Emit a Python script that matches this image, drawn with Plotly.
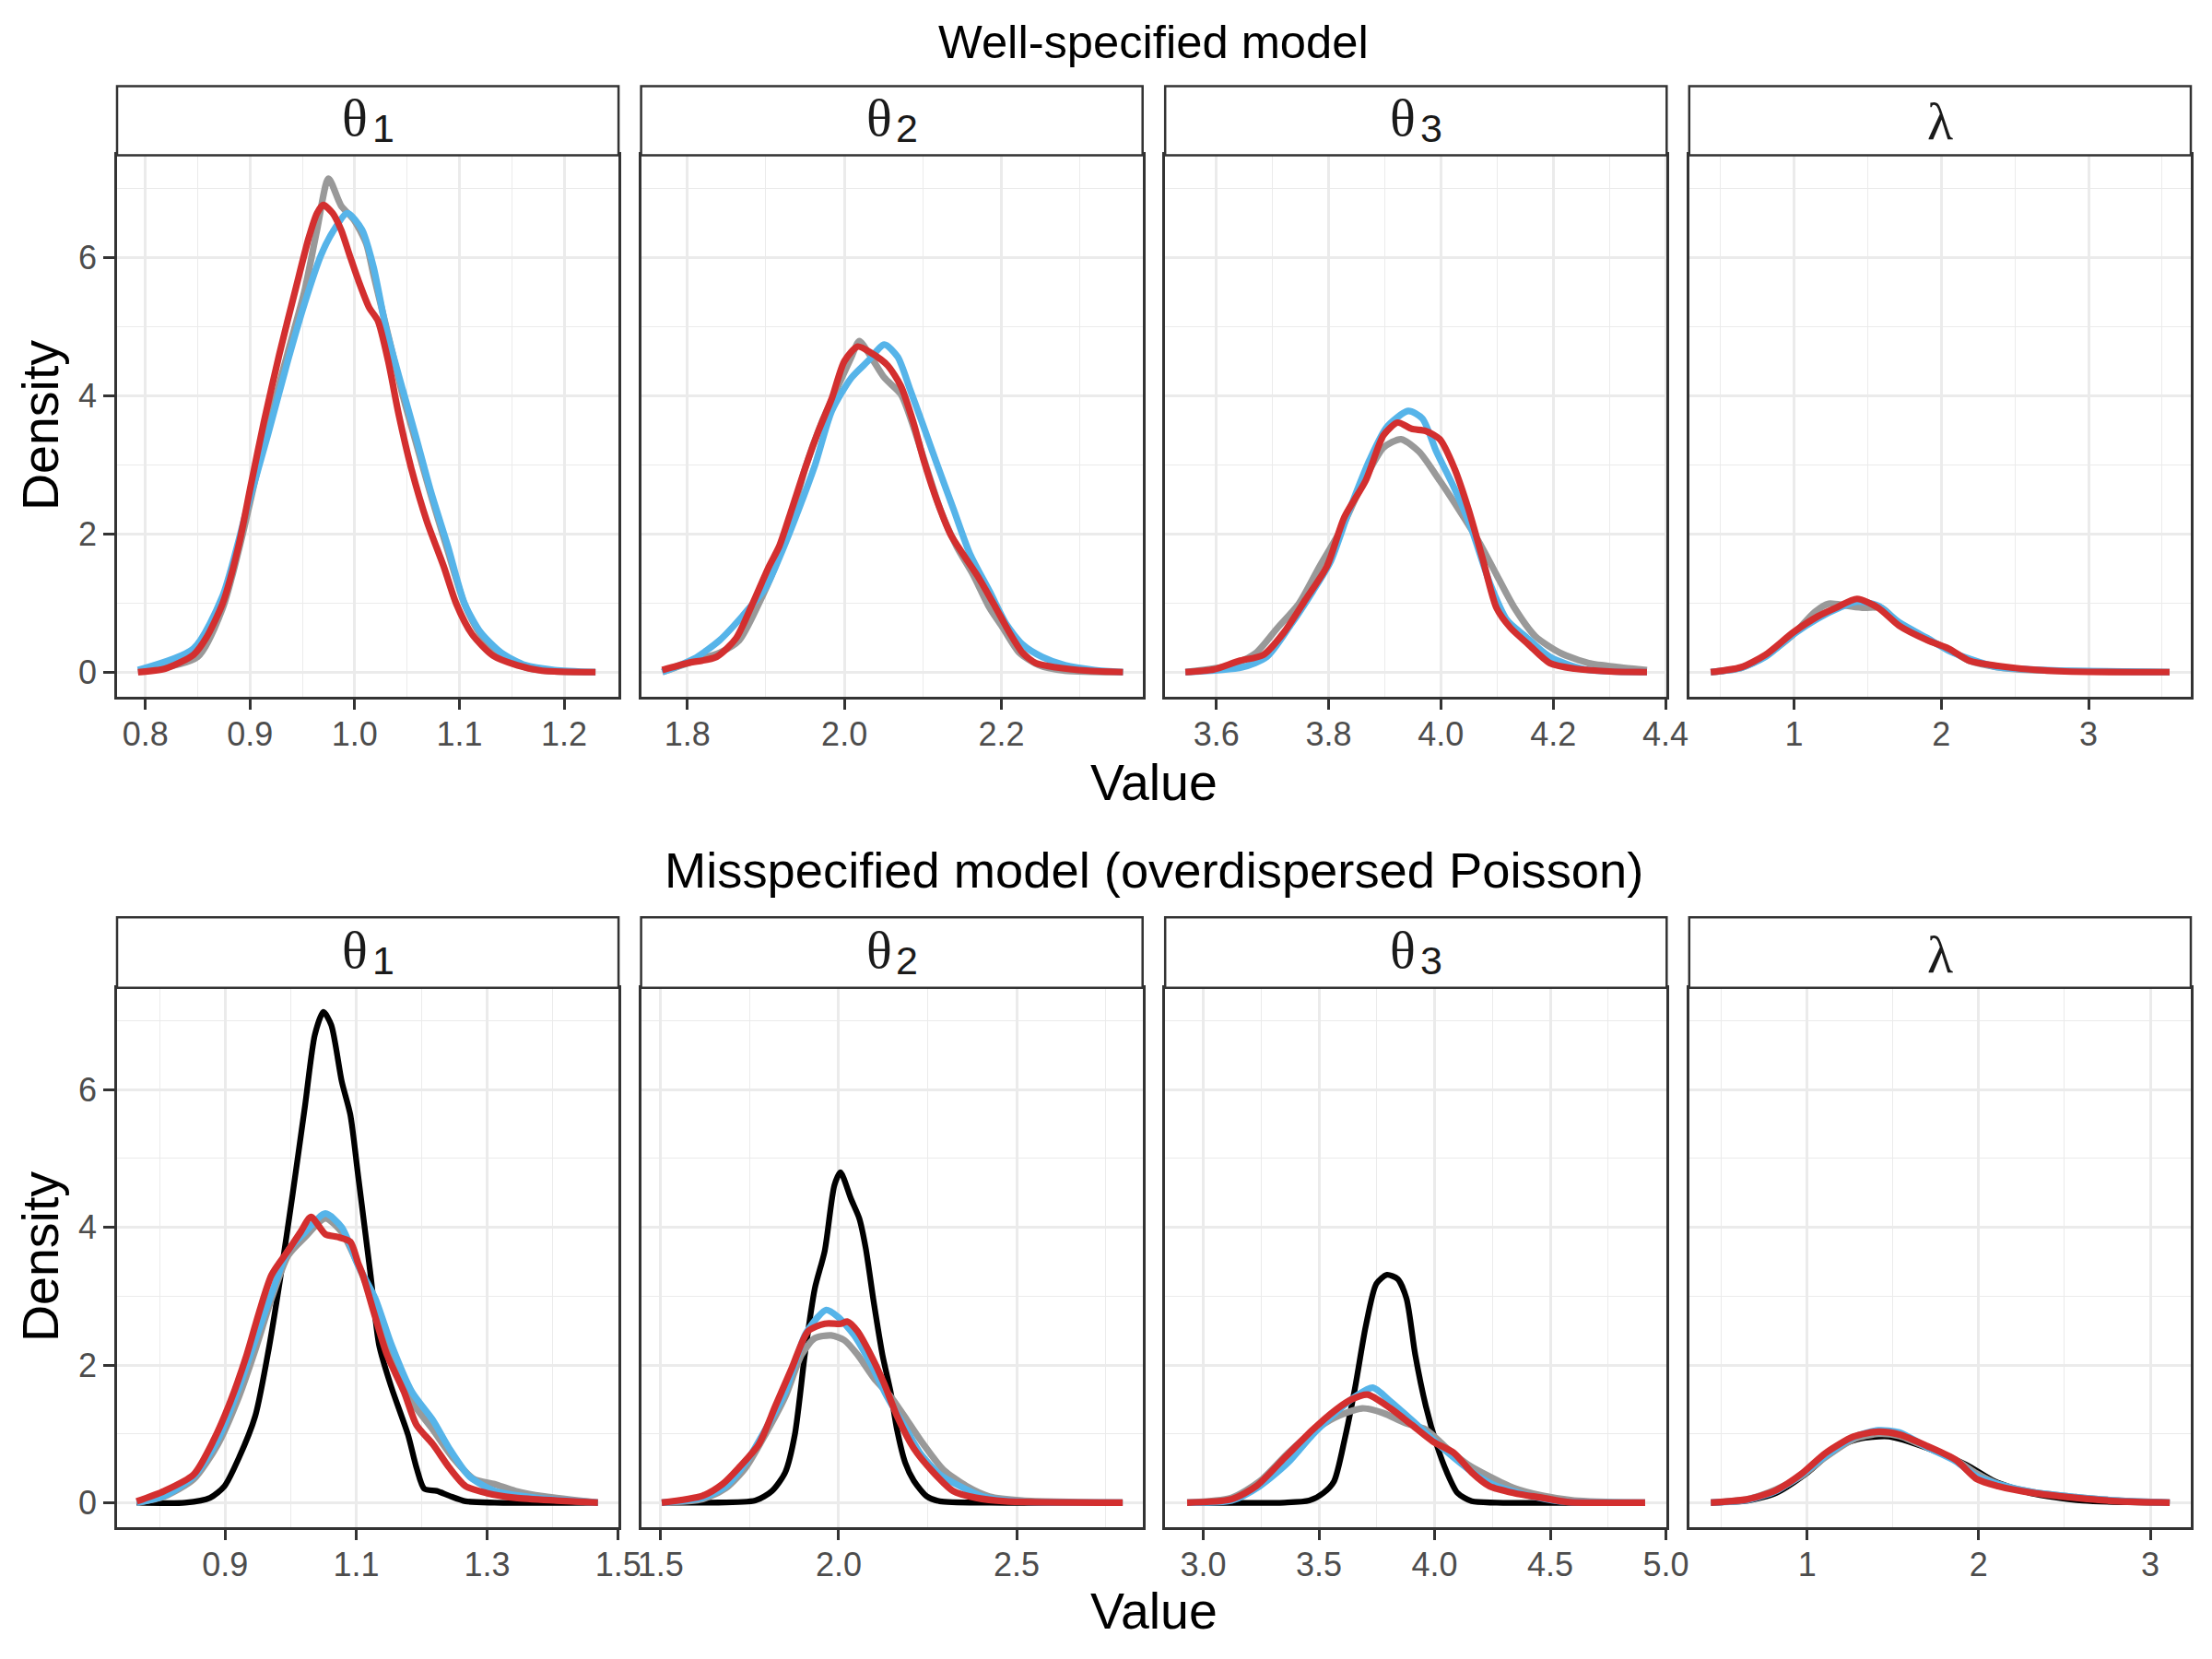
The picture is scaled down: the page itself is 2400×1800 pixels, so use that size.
import plotly.graph_objects as go

W, H = 2400, 1800
C_GRAY, C_BLUE, C_BLACK, C_RED = "#999999", "#56B4E9", "#000000", "#D32F2F"

# ---------------- Well-specified model ----------------
# theta1
W1_GRAY_X = [0.793, 0.850, 0.874, 0.893, 0.913, 0.936, 0.952, 0.964, 0.975, 0.987, 0.999, 1.011, 1.018, 1.030, 1.046, 1.058, 1.073, 1.089, 1.105, 1.120, 1.140, 1.163, 1.191, 1.230]
W1_GRAY_Y = [0.0, 0.22, 0.93, 2.0, 3.31, 4.62, 5.51, 6.4, 7.14, 6.75, 6.55, 6.2, 5.75, 5.0, 4.0, 3.35, 2.55, 1.75, 0.98, 0.55, 0.25, 0.07, 0.01, 0.0]
W1_BLUE_X = [0.793, 0.846, 0.874, 0.897, 0.917, 0.936, 0.952, 0.968, 0.979, 0.993, 1.007, 1.018, 1.030, 1.046, 1.058, 1.073, 1.089, 1.105, 1.120, 1.140, 1.163, 1.191, 1.230]
W1_BLUE_Y = [0.03, 0.34, 1.11, 2.36, 3.43, 4.5, 5.33, 6.04, 6.37, 6.64, 6.4, 5.86, 4.97, 4.08, 3.43, 2.6, 1.82, 0.99, 0.58, 0.28, 0.1, 0.03, 0.0]
W1_RED_X = [0.793, 0.819, 0.846, 0.858, 0.874, 0.889, 0.901, 0.913, 0.928, 0.944, 0.956, 0.964, 0.970, 0.979, 0.987, 0.995, 1.003, 1.014, 1.022, 1.032, 1.042, 1.054, 1.069, 1.085, 1.097, 1.112, 1.132, 1.155, 1.179, 1.230]
W1_RED_Y = [0.0, 0.05, 0.25, 0.49, 1.0, 1.82, 2.72, 3.6, 4.6, 5.57, 6.28, 6.64, 6.76, 6.64, 6.4, 6.04, 5.69, 5.27, 5.09, 4.5, 3.73, 2.95, 2.18, 1.53, 0.99, 0.55, 0.24, 0.10, 0.02, 0.0]
# theta2
W2_GRAY_X = [1.768, 1.808, 1.841, 1.866, 1.891, 1.912, 1.933, 1.950, 1.971, 1.992, 2.009, 2.019, 2.034, 2.051, 2.072, 2.088, 2.105, 2.122, 2.143, 2.164, 2.185, 2.202, 2.223, 2.248, 2.281, 2.355]
W2_GRAY_Y = [0.0, 0.16, 0.28, 0.46, 0.99, 1.53, 2.24, 2.95, 3.61, 4.14, 4.56, 4.79, 4.56, 4.26, 4.02, 3.55, 2.95, 2.36, 1.82, 1.41, 0.93, 0.64, 0.28, 0.1, 0.02, 0.0]
W2_BLUE_X = [1.768, 1.808, 1.841, 1.870, 1.900, 1.921, 1.942, 1.963, 1.984, 2.009, 2.030, 2.051, 2.068, 2.084, 2.101, 2.118, 2.139, 2.160, 2.185, 2.206, 2.227, 2.252, 2.281, 2.319, 2.355]
W2_BLUE_Y = [0.0, 0.19, 0.46, 0.81, 1.23, 1.76, 2.36, 3.01, 3.78, 4.26, 4.5, 4.74, 4.56, 4.08, 3.55, 3.01, 2.36, 1.71, 1.17, 0.7, 0.4, 0.22, 0.1, 0.03, 0.0]
W2_RED_X = [1.768, 1.800, 1.837, 1.862, 1.883, 1.904, 1.917, 1.933, 1.950, 1.967, 1.984, 2.000, 2.017, 2.034, 2.055, 2.072, 2.088, 2.101, 2.118, 2.135, 2.151, 2.172, 2.193, 2.210, 2.227, 2.244, 2.269, 2.311, 2.355]
W2_RED_Y = [0.03, 0.13, 0.22, 0.49, 0.99, 1.53, 1.82, 2.36, 2.95, 3.49, 3.96, 4.5, 4.71, 4.62, 4.44, 4.14, 3.61, 3.07, 2.48, 2.0, 1.71, 1.35, 0.93, 0.58, 0.28, 0.13, 0.07, 0.02, 0.0]
# theta3
W3_GRAY_X = [3.545, 3.627, 3.671, 3.709, 3.747, 3.784, 3.822, 3.860, 3.898, 3.929, 3.961, 3.998, 4.036, 4.068, 4.099, 4.131, 4.168, 4.212, 4.263, 4.319, 4.367]
W3_GRAY_Y = [0.0, 0.1, 0.28, 0.64, 0.99, 1.53, 2.06, 2.72, 3.25, 3.37, 3.19, 2.77, 2.3, 1.88, 1.41, 0.93, 0.52, 0.28, 0.13, 0.07, 0.03]
W3_BLUE_X = [3.545, 3.646, 3.690, 3.734, 3.772, 3.803, 3.835, 3.873, 3.904, 3.942, 3.967, 3.992, 4.024, 4.055, 4.087, 4.118, 4.150, 4.194, 4.256, 4.367]
W3_BLUE_Y = [0.0, 0.07, 0.22, 0.7, 1.17, 1.59, 2.3, 3.07, 3.55, 3.78, 3.67, 3.19, 2.66, 2.06, 1.29, 0.75, 0.52, 0.22, 0.04, 0.0]
W3_RED_X = [3.545, 3.596, 3.640, 3.684, 3.721, 3.759, 3.797, 3.828, 3.866, 3.898, 3.923, 3.948, 3.973, 3.998, 4.024, 4.049, 4.074, 4.099, 4.124, 4.156, 4.194, 4.238, 4.300, 4.367]
W3_RED_Y = [0.0, 0.04, 0.16, 0.25, 0.58, 1.05, 1.53, 2.24, 2.77, 3.43, 3.61, 3.52, 3.49, 3.37, 2.95, 2.36, 1.65, 0.93, 0.64, 0.4, 0.13, 0.05, 0.01, 0.0]
# lambda
W4_GRAY_X = [0.435, 0.639, 0.806, 0.998, 1.141, 1.237, 1.356, 1.476, 1.596, 1.715, 1.907, 2.050, 2.194, 2.385, 2.600, 3.550]
W4_GRAY_Y = [0.0, 0.06, 0.23, 0.55, 0.87, 0.99, 0.96, 0.93, 0.93, 0.7, 0.47, 0.33, 0.16, 0.07, 0.03, 0.0]
W4_BLUE_X = [0.435, 0.639, 0.806, 0.998, 1.165, 1.309, 1.428, 1.572, 1.715, 1.907, 2.050, 2.194, 2.385, 2.600, 2.840, 3.550]
W4_BLUE_Y = [0.0, 0.06, 0.22, 0.55, 0.78, 0.93, 1.02, 0.96, 0.72, 0.49, 0.31, 0.19, 0.07, 0.04, 0.02, 0.0]
W4_RED_X = [0.435, 0.639, 0.806, 0.998, 1.165, 1.285, 1.428, 1.572, 1.715, 1.907, 2.050, 2.194, 2.385, 2.600, 2.840, 3.550]
W4_RED_Y = [0.0, 0.07, 0.25, 0.58, 0.81, 0.93, 1.06, 0.93, 0.67, 0.46, 0.34, 0.16, 0.09, 0.04, 0.01, 0.0]

# ---------------- Misspecified model ----------------
# theta1
M1_BLACK_X = [0.765, 0.839, 0.877, 0.899, 0.921, 0.946, 0.965, 0.984, 1.003, 1.022, 1.037, 1.050, 1.062, 1.078, 1.091, 1.103, 1.122, 1.135, 1.154, 1.179, 1.192, 1.204, 1.223, 1.242, 1.267, 1.311, 1.469]
M1_BLACK_Y = [0.0, 0.0, 0.07, 0.24, 0.65, 1.26, 2.15, 3.25, 4.48, 5.77, 6.8, 7.13, 6.94, 6.12, 5.64, 4.75, 3.31, 2.29, 1.67, 0.99, 0.51, 0.2, 0.17, 0.1, 0.02, 0.0, 0.0]
M1_GRAY_X = [0.765, 0.807, 0.852, 0.889, 0.921, 0.946, 0.971, 0.996, 1.022, 1.053, 1.078, 1.103, 1.129, 1.154, 1.185, 1.217, 1.248, 1.280, 1.311, 1.343, 1.387, 1.469]
M1_GRAY_Y = [0.0, 0.09, 0.34, 0.85, 1.54, 2.22, 2.97, 3.59, 3.86, 4.13, 3.93, 3.45, 2.84, 2.15, 1.47, 1.06, 0.65, 0.34, 0.27, 0.17, 0.09, 0.0]
M1_BLUE_X = [0.765, 0.807, 0.852, 0.889, 0.921, 0.946, 0.971, 0.996, 1.022, 1.053, 1.078, 1.103, 1.129, 1.154, 1.185, 1.217, 1.242, 1.273, 1.311, 1.374, 1.469]
M1_BLUE_Y = [0.0, 0.1, 0.38, 0.92, 1.67, 2.36, 3.04, 3.66, 3.93, 4.2, 4.0, 3.45, 2.97, 2.29, 1.61, 1.2, 0.79, 0.38, 0.17, 0.07, 0.0]
M1_RED_X = [0.765, 0.807, 0.852, 0.883, 0.908, 0.933, 0.952, 0.971, 0.996, 1.015, 1.031, 1.053, 1.072, 1.091, 1.103, 1.110, 1.129, 1.147, 1.173, 1.192, 1.217, 1.242, 1.267, 1.299, 1.343, 1.406, 1.469]
M1_RED_Y = [0.02, 0.17, 0.41, 0.92, 1.47, 2.15, 2.77, 3.31, 3.66, 3.93, 4.15, 3.9, 3.86, 3.79, 3.48, 3.31, 2.7, 2.15, 1.61, 1.13, 0.85, 0.51, 0.24, 0.14, 0.07, 0.03, 0.0]
# theta2
M2_BLACK_X = [1.503, 1.637, 1.766, 1.813, 1.850, 1.877, 1.905, 1.933, 1.961, 1.988, 2.005, 2.035, 2.058, 2.076, 2.099, 2.123, 2.146, 2.164, 2.187, 2.211, 2.248, 2.284, 2.423, 2.798]
M2_BLACK_Y = [0.0, 0.0, 0.03, 0.17, 0.44, 0.99, 2.15, 3.11, 3.66, 4.61, 4.8, 4.41, 4.13, 3.7, 2.9, 2.15, 1.61, 1.06, 0.58, 0.32, 0.09, 0.02, 0.0, 0.0]
M2_GRAY_X = [1.503, 1.618, 1.683, 1.739, 1.794, 1.850, 1.896, 1.933, 1.979, 2.016, 2.053, 2.099, 2.146, 2.192, 2.238, 2.294, 2.359, 2.423, 2.516, 2.798]
M2_GRAY_Y = [0.0, 0.05, 0.21, 0.51, 0.99, 1.54, 2.15, 2.39, 2.43, 2.36, 2.15, 1.81, 1.54, 1.2, 0.85, 0.48, 0.24, 0.09, 0.03, 0.0]
M2_BLUE_X = [1.503, 1.618, 1.683, 1.739, 1.794, 1.850, 1.905, 1.942, 1.965, 1.998, 2.044, 2.090, 2.136, 2.183, 2.229, 2.284, 2.340, 2.405, 2.497, 2.798]
M2_BLUE_Y = [0.0, 0.07, 0.24, 0.58, 1.06, 1.61, 2.43, 2.7, 2.8, 2.7, 2.43, 2.02, 1.54, 1.13, 0.72, 0.41, 0.24, 0.09, 0.02, 0.0]
M2_RED_X = [1.503, 1.618, 1.674, 1.720, 1.776, 1.822, 1.868, 1.914, 1.961, 2.007, 2.025, 2.053, 2.090, 2.127, 2.164, 2.211, 2.266, 2.321, 2.386, 2.469, 2.798]
M2_RED_Y = [0.0, 0.1, 0.27, 0.51, 0.85, 1.4, 1.95, 2.49, 2.6, 2.6, 2.63, 2.49, 2.15, 1.74, 1.26, 0.79, 0.44, 0.17, 0.07, 0.02, 0.0]
# theta3
M3_BLACK_X = [2.930, 3.351, 3.458, 3.519, 3.565, 3.611, 3.656, 3.702, 3.748, 3.794, 3.840, 3.878, 3.916, 3.962, 4.008, 4.053, 4.099, 4.160, 4.267, 4.910]
M3_BLACK_Y = [0.0, 0.0, 0.03, 0.14, 0.31, 0.92, 1.67, 2.56, 3.18, 3.31, 3.25, 2.97, 2.15, 1.4, 0.85, 0.44, 0.14, 0.02, 0.0, 0.0]
M3_GRAY_X = [2.930, 3.122, 3.244, 3.366, 3.473, 3.565, 3.687, 3.779, 3.870, 3.962, 4.053, 4.145, 4.237, 4.344, 4.466, 4.603, 4.910]
M3_GRAY_Y = [0.0, 0.07, 0.31, 0.72, 1.03, 1.23, 1.37, 1.3, 1.16, 1.06, 0.79, 0.55, 0.38, 0.21, 0.1, 0.03, 0.0]
M3_BLUE_X = [2.930, 3.122, 3.244, 3.366, 3.473, 3.580, 3.656, 3.733, 3.809, 3.901, 3.992, 4.084, 4.176, 4.267, 4.389, 4.542, 4.910]
M3_BLUE_Y = [0.0, 0.03, 0.24, 0.58, 0.99, 1.33, 1.54, 1.67, 1.47, 1.2, 0.92, 0.65, 0.41, 0.24, 0.12, 0.02, 0.0]
M3_RED_X = [2.930, 3.122, 3.229, 3.351, 3.473, 3.565, 3.641, 3.710, 3.809, 3.901, 3.992, 4.084, 4.160, 4.237, 4.344, 4.466, 4.573, 4.910]
M3_RED_Y = [0.0, 0.05, 0.24, 0.65, 1.06, 1.33, 1.5, 1.57, 1.37, 1.13, 0.89, 0.72, 0.44, 0.24, 0.14, 0.07, 0.01, 0.0]
# lambda
M4_BLACK_X = [0.439, 0.655, 0.819, 1.004, 1.168, 1.292, 1.476, 1.702, 1.928, 2.092, 2.298, 2.606, 3.113]
M4_BLACK_Y = [0.0, 0.03, 0.14, 0.44, 0.79, 0.92, 0.96, 0.79, 0.55, 0.31, 0.14, 0.03, 0.0]
M4_GRAY_X = [0.439, 0.655, 0.819, 0.963, 1.107, 1.271, 1.415, 1.538, 1.702, 1.867, 1.990, 2.113, 2.318, 2.565, 2.811, 3.113]
M4_GRAY_Y = [0.0, 0.05, 0.19, 0.38, 0.66, 0.92, 1.0, 0.97, 0.8, 0.62, 0.42, 0.27, 0.15, 0.08, 0.03, 0.0]
M4_BLUE_X = [0.439, 0.655, 0.819, 0.963, 1.107, 1.271, 1.415, 1.538, 1.702, 1.867, 1.990, 2.113, 2.318, 2.565, 2.811, 3.113]
M4_BLUE_Y = [0.0, 0.04, 0.17, 0.4, 0.68, 0.95, 1.05, 1.02, 0.8, 0.6, 0.38, 0.27, 0.15, 0.08, 0.03, 0.0]
M4_RED_X = [0.439, 0.655, 0.819, 0.963, 1.107, 1.271, 1.415, 1.538, 1.702, 1.867, 1.990, 2.113, 2.318, 2.565, 2.811, 3.113]
M4_RED_Y = [0.0, 0.05, 0.18, 0.41, 0.72, 0.96, 1.03, 0.99, 0.82, 0.62, 0.34, 0.24, 0.14, 0.07, 0.02, 0.0]

# ---------------- axes ----------------
ROW_TITLES = ["Well-specified model", "Misspecified model (overdispersed Poisson)"]
ROW_TITLE_SIZES = [50.7, 54.3]
PANEL_LABELS = [("θ", "1"), ("θ", "2"), ("θ", "3"), ("λ", "")]
X_RANGES = [[0.773, 1.252], [1.741, 2.380], [3.509, 4.402], [0.289, 3.694],
            [0.735, 1.5005], [1.445, 2.854], [2.835, 5.003], [0.313, 3.236]]
X_TICKS = [[0.8, 0.9, 1.0, 1.1, 1.2], [1.8, 2.0, 2.2], [3.6, 3.8, 4.0, 4.2, 4.4], [1, 2, 3],
           [0.9, 1.1, 1.3, 1.5], [1.5, 2.0, 2.5], [3.0, 3.5, 4.0, 4.5, 5.0], [1, 2, 3]]
X_TICKTEXT = [["0.8", "0.9", "1.0", "1.1", "1.2"], ["1.8", "2.0", "2.2"], ["3.6", "3.8", "4.0", "4.2", "4.4"], ["1", "2", "3"],
              ["0.9", "1.1", "1.3", "1.5"], ["1.5", "2.0", "2.5"], ["3.0", "3.5", "4.0", "4.5", "5.0"], ["1", "2", "3"]]
X_MINOR = [[0.85, 0.95, 1.05, 1.15], [1.9, 2.1, 2.3], [3.7, 3.9, 4.1, 4.3], [0.5, 1.5, 2.5, 3.5],
           [0.8, 1.0, 1.2, 1.4], [1.75, 2.25, 2.75], [3.25, 3.75, 4.25, 4.75], [0.5, 1.5, 2.5]]
Y_RANGE = [-0.357, 7.48]
Y_TICKS = [0, 2, 4, 6]
Y_MINOR = [1, 3, 5, 7]

SERIES = [
    [(W1_GRAY_X, W1_GRAY_Y, C_GRAY), (W1_BLUE_X, W1_BLUE_Y, C_BLUE), (W1_RED_X, W1_RED_Y, C_RED)],
    [(W2_GRAY_X, W2_GRAY_Y, C_GRAY), (W2_BLUE_X, W2_BLUE_Y, C_BLUE), (W2_RED_X, W2_RED_Y, C_RED)],
    [(W3_GRAY_X, W3_GRAY_Y, C_GRAY), (W3_BLUE_X, W3_BLUE_Y, C_BLUE), (W3_RED_X, W3_RED_Y, C_RED)],
    [(W4_GRAY_X, W4_GRAY_Y, C_GRAY), (W4_BLUE_X, W4_BLUE_Y, C_BLUE), (W4_RED_X, W4_RED_Y, C_RED)],
    [(M1_BLACK_X, M1_BLACK_Y, C_BLACK), (M1_GRAY_X, M1_GRAY_Y, C_GRAY), (M1_BLUE_X, M1_BLUE_Y, C_BLUE), (M1_RED_X, M1_RED_Y, C_RED)],
    [(M2_BLACK_X, M2_BLACK_Y, C_BLACK), (M2_GRAY_X, M2_GRAY_Y, C_GRAY), (M2_BLUE_X, M2_BLUE_Y, C_BLUE), (M2_RED_X, M2_RED_Y, C_RED)],
    [(M3_BLACK_X, M3_BLACK_Y, C_BLACK), (M3_GRAY_X, M3_GRAY_Y, C_GRAY), (M3_BLUE_X, M3_BLUE_Y, C_BLUE), (M3_RED_X, M3_RED_Y, C_RED)],
    [(M4_BLACK_X, M4_BLACK_Y, C_BLACK), (M4_GRAY_X, M4_GRAY_Y, C_GRAY), (M4_BLUE_X, M4_BLUE_Y, C_BLUE), (M4_RED_X, M4_RED_Y, C_RED)],
]

# layout geometry in page pixels
COLS_PX = [(127.0, 671.1), (695.6, 1239.7), (1264.2, 1808.3), (1832.8, 2377.0)]
ROWS_PX = [dict(strip=(93.4, 168.4), panel=(168.4, 756.0), title=45.0, xlab=848.8, ylab=462.0),
           dict(strip=(995.3, 1071.8), panel=(1071.8, 1657.0), title=944.0, xlab=1747.5, ylab=1364.0)]

BORDER = "#333333"
GRID = "#EBEBEB"
SANS = "Liberation Sans, Arial, sans-serif"
SERIF = "Liberation Serif, Times New Roman, serif"
SYM_SIZE = 58
SUB_SIZE = 43


def fx(p):
    return p / W


def fy(p):
    return 1 - p / H


fig = go.Figure()
layout = dict(width=W, height=H, margin=dict(l=0, r=0, t=0, b=0, autoexpand=False),
              paper_bgcolor="white", plot_bgcolor="white", showlegend=False)
shapes, annotations = [], []

for r, row in enumerate(ROWS_PX):
    for c, (x0, x1) in enumerate(COLS_PX):
        k = r * 4 + c
        n = "" if k == 0 else str(k + 1)
        xname, yname = "x" + n, "y" + n
        for xs, ys, col in SERIES[k]:
            fig.add_trace(go.Scatter(x=xs, y=ys, mode="lines", xaxis=xname, yaxis=yname,
                                     line=dict(color=col, width=6.3 if col == C_BLACK else 7.2,
                                               shape="spline", smoothing=0.7),
                                     hoverinfo="skip"))
        py0, py1 = row["panel"]
        layout["xaxis" + n] = dict(
            domain=[fx(x0), fx(x1)], anchor=yname, range=X_RANGES[k],
            tickmode="array", tickvals=X_TICKS[k], ticktext=X_TICKTEXT[k],
            ticks="outside", ticklen=11, tickwidth=2.5, tickcolor=BORDER, ticklabelstandoff=-4,
            showline=True, mirror=True, linecolor=BORDER, linewidth=2.5,
            showgrid=True, gridcolor=GRID, gridwidth=2.7, zeroline=False, automargin=False,
            minor=dict(tickmode="array", tickvals=X_MINOR[k], showgrid=True, gridcolor=GRID, gridwidth=1.4, ticks=""),
            tickfont=dict(family=SANS, size=36, color="#4D4D4D"), fixedrange=True)
        layout["yaxis" + n] = dict(
            domain=[fy(py1), fy(py0)], anchor=xname, range=Y_RANGE,
            tickmode="array", tickvals=Y_TICKS, ticktext=[str(v) for v in Y_TICKS],
            showticklabels=(c == 0), ticks="outside" if c == 0 else "", ticklen=12, tickwidth=2.5, tickcolor=BORDER,
            showline=True, mirror=True, linecolor=BORDER, linewidth=2.5,
            showgrid=True, gridcolor=GRID, gridwidth=2.7, zeroline=False, automargin=False,
            minor=dict(tickmode="array", tickvals=Y_MINOR, showgrid=True, gridcolor=GRID, gridwidth=1.4, ticks=""),
            tickfont=dict(family=SANS, size=36, color="#4D4D4D"), fixedrange=True)

        # strip
        s0, s1 = row["strip"]
        shapes.append(dict(type="rect", xref="paper", yref="paper", x0=fx(x0), x1=fx(x1), y0=fy(s1), y1=fy(s0),
                           fillcolor="white", line=dict(color=BORDER, width=2.5), layer="above"))
        cx = (x0 + x1) / 2
        sym, sub = PANEL_LABELS[c]
        if sub:
            base = s1 - 21.4
            annotations.append(dict(text=sym, xref="paper", yref="paper", x=fx(cx + 2), y=fy(base - 0.3375 * SYM_SIZE),
                                    xanchor="right", yanchor="middle", showarrow=False,
                                    font=dict(family=SERIF, size=SYM_SIZE, color="#1A1A1A")))
            base2 = s1 - 14.7
            annotations.append(dict(text=sub, xref="paper", yref="paper", x=fx(cx + 2.5), y=fy(base2 - 0.3465 * SUB_SIZE),
                                    xanchor="left", yanchor="middle", showarrow=False,
                                    font=dict(family=SANS, size=SUB_SIZE, color="#1A1A1A")))
        else:
            base = s1 - 17
            annotations.append(dict(text=sym, xref="paper", yref="paper", x=fx(cx), y=fy(base - 0.3375 * SYM_SIZE),
                                    xanchor="center", yanchor="middle", showarrow=False,
                                    font=dict(family=SERIF, size=SYM_SIZE, color="#1A1A1A")))

    mid = (COLS_PX[0][0] + COLS_PX[-1][1]) / 2
    annotations.append(dict(text=ROW_TITLES[r], xref="paper", yref="paper", x=fx(mid), y=fy(row["title"]),
                            xanchor="center", yanchor="middle", showarrow=False,
                            font=dict(family=SANS, size=ROW_TITLE_SIZES[r], color="black")))
    annotations.append(dict(text="Value", xref="paper", yref="paper", x=fx(mid), y=fy(row["xlab"]),
                            xanchor="center", yanchor="middle", showarrow=False,
                            font=dict(family=SANS, size=55.5, color="black")))
    annotations.append(dict(text="Density", xref="paper", yref="paper", x=fx(44), y=fy(row["ylab"]),
                            xanchor="center", yanchor="middle", showarrow=False, textangle=-90,
                            font=dict(family=SANS, size=55.5, color="black")))

layout["shapes"] = shapes
layout["annotations"] = annotations
fig.update_layout(**layout)
fig.write_html("out.html", config={"displayModeBar": False},
               post_script="document.body.style.margin='0px';document.body.style.overflow='hidden';")
